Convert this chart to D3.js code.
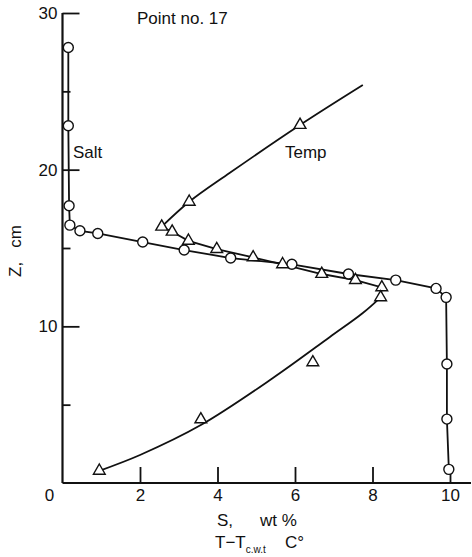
<!DOCTYPE html>
<html>
<head>
<meta charset="utf-8">
<script src="https://cdn.jsdelivr.net/npm/d3@7"></script>
<style>
  body { margin: 0; background: #fff; }
  text { font-family: "Liberation Sans", Arial, sans-serif; fill: #111; }
</style>
</head>
<body>
<div id="chart"></div>
<script>
// Salt profile (circles): S wt %, Z cm
const saltS = [0.15, 0.15, 0.17, 0.19, 0.45, 0.91, 2.07, 3.14, 4.34, 5.92, 7.38, 8.60, 9.64, 9.90, 9.92, 9.92, 9.97];
const saltZ = [27.8, 22.8, 17.7, 16.46, 16.1, 15.93, 15.38, 14.87, 14.36, 13.96, 13.34, 12.95, 12.42, 11.85, 7.6, 4.08, 0.87];

// Temperature points (triangles): T - Tcwt, Z cm
const tempT = [6.13, 3.27, 2.56, 2.83, 3.25, 3.98, 4.92, 5.68, 6.69, 7.56, 8.24, 8.21, 6.46, 3.57, 0.95];
const tempZ = [22.85, 17.95, 16.36, 16.04, 15.46, 14.93, 14.4, 13.96, 13.34, 12.95, 12.49, 11.85, 7.7, 4.06, 0.78];

// Temperature curves as drawn
const tempUpperT = [7.75, 6.13, 4.32, 3.27, 2.56];
const tempUpperZ = [25.4, 22.85, 19.8, 17.95, 16.36];
const tempMidT = [2.56, 2.83, 3.25, 3.98, 4.92, 5.68, 6.69, 7.56, 8.24, 8.21];
const tempMidZ = [16.36, 16.04, 15.46, 14.93, 14.4, 13.96, 13.34, 12.95, 12.49, 11.85];
const tempLowerT = [8.21, 7.75, 6.90, 5.43, 3.57, 2.00, 0.95];
const tempLowerZ = [11.85, 10.85, 9.32, 6.70, 3.70, 1.79, 0.78];

const xTicks = [2, 4, 6, 8, 10];
const yMajor = [10, 20, 30];
const yMinor = [5, 15, 25];

const W = 472, H = 557;
const svg = d3.select('#chart').append('svg')
    .attr('width', W).attr('height', H);

const x = d3.scaleLinear().domain([0, 10]).range([62.5, 450]);
const y = d3.scaleLinear().domain([0, 30]).range([483, 13]);

// axes
const xAxis = svg.append('g')
    .attr('transform', `translate(0,${y(0)})`)
    .call(d3.axisBottom(x).tickValues(xTicks).tickSizeInner(-16).tickSizeOuter(0).tickPadding(6));
xAxis.select('.domain').remove();
svg.append('line')
    .attr('x1', x(0)).attr('x2', 471)
    .attr('y1', y(0)).attr('y2', y(0))
    .attr('stroke', '#111').attr('stroke-width', 2.2);

const yAxis = svg.append('g')
    .attr('transform', `translate(${x(0)},0)`)
    .call(d3.axisLeft(y).tickValues(yMajor).tickSizeInner(-17).tickSizeOuter(0).tickPadding(5));
yAxis.select('.domain').remove();
svg.append('g')
    .attr('transform', `translate(${x(0)},0)`)
    .call(d3.axisLeft(y).tickValues(yMinor).tickSizeInner(-8).tickSizeOuter(0).tickFormat(''))
    .select('.domain').remove();
svg.append('line')
    .attr('x1', x(0)).attr('x2', x(0))
    .attr('y1', y(0)).attr('y2', y(30))
    .attr('stroke', '#111').attr('stroke-width', 2.2);

svg.selectAll('.tick line').attr('stroke', '#111').attr('stroke-width', 1.8);
svg.selectAll('.tick text')
    .style('font-size', '17px')
    .style('font-family', '"Liberation Sans", Arial, sans-serif')
    .attr('fill', '#111');

svg.append('text')
    .attr('x', x(0) - 13).attr('y', y(0) + 18)
    .attr('text-anchor', 'middle')
    .style('font-size', '17px')
    .text('0');

// lines
const line = d3.line().x(d => x(d[0])).y(d => y(d[1]));
const smooth = d3.line().x(d => x(d[0])).y(d => y(d[1])).curve(d3.curveCatmullRom);

svg.append('path')
    .attr('d', line(saltS.map((s, i) => [s, saltZ[i]])))
    .attr('fill', 'none').attr('stroke', '#111').attr('stroke-width', 1.8);
svg.append('path')
    .attr('d', smooth(tempUpperT.map((t, i) => [t, tempUpperZ[i]])))
    .attr('fill', 'none').attr('stroke', '#111').attr('stroke-width', 1.8);
svg.append('path')
    .attr('d', line(tempMidT.map((t, i) => [t, tempMidZ[i]])))
    .attr('fill', 'none').attr('stroke', '#111').attr('stroke-width', 1.8);
svg.append('path')
    .attr('d', smooth(tempLowerT.map((t, i) => [t, tempLowerZ[i]])))
    .attr('fill', 'none').attr('stroke', '#111').attr('stroke-width', 1.8);

// markers
svg.selectAll('.salt')
    .data(saltS.map((s, i) => [s, saltZ[i]]))
    .enter().append('circle')
    .attr('cx', d => x(d[0])).attr('cy', d => y(d[1]))
    .attr('r', 5)
    .attr('fill', '#fff').attr('stroke', '#111').attr('stroke-width', 1.4);

const tri = d3.symbol().type(d3.symbolTriangle).size(60);
svg.selectAll('.temp')
    .data(tempT.map((t, i) => [t, tempZ[i]]))
    .enter().append('path')
    .attr('d', tri)
    .attr('transform', d => `translate(${x(d[0])},${y(d[1])})`)
    .attr('fill', '#fff').attr('stroke', '#111').attr('stroke-width', 1.4);

// annotations
svg.append('text').attr('x', 137).attr('y', 24).style('font-size', '17px').text('Point no. 17');
svg.append('text').attr('x', 73).attr('y', 158).style('font-size', '17px').text('Salt');
svg.append('text').attr('x', 285).attr('y', 158).style('font-size', '17px').text('Temp');

// axis titles
svg.append('text')
    .attr('transform', 'translate(21,251) rotate(-90)')
    .attr('text-anchor', 'middle')
    .style('font-size', '17px')
    .attr('xml:space', 'preserve')
    .text('Z,   cm');

svg.append('text').attr('x', 217).attr('y', 526).style('font-size', '17px').text('S,');
svg.append('text').attr('x', 260).attr('y', 526).style('font-size', '17px').text('wt %');

const t2 = svg.append('text').attr('x', 215).attr('y', 548).style('font-size', '17px');
t2.append('tspan').text('T\u2212T');
t2.append('tspan').attr('dy', 5).style('font-size', '10px').text('c.w.t');
svg.append('text').attr('x', 285).attr('y', 548).style('font-size', '17px').text('C°');
</script>
</body>
</html>
